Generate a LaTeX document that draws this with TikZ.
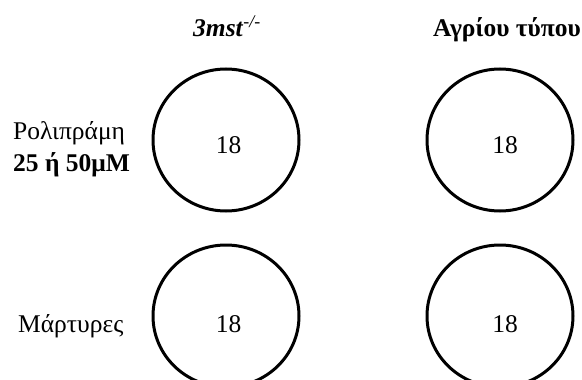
\documentclass[tikz,border=0pt]{standalone}
\usepackage{fontspec}
\setmainfont{Liberation Serif}
\tikzset{
  dish/.style={draw=black, line width=3pt, ellipse, minimum width=146pt, minimum height=142pt, inner sep=0pt},
  lbl/.style={font=\fontsize{25.5}{30}\selectfont, anchor=base, inner sep=0pt},
}
\usetikzlibrary{shapes.geometric}
\begin{document}
\begin{tikzpicture}[x=1pt,y=-1pt]
\useasboundingbox (0,0) rectangle (582,380);
\clip (0,0) rectangle (582,380);
\node[dish] (c11) at (226,140) {};
\node[dish] (c12) at (500,140) {};
\node[dish] (c21) at (226,316) {};
\node[dish] (c22) at (500,316) {};
\node[lbl] (n11) at (228.5,153) {18};
\node[lbl] (n12) at (505,153) {18};
\node[lbl] (n21) at (228.5,332) {18};
\node[lbl] (n22) at (505,332) {18};
\node[lbl] (h1) at (227,36.5) {\textbf{\textit{3mst}}\textsuperscript{\textit{-/-}}};
\node[lbl] (h2) at (507,36.5) {\textbf{Αγρίου τύπου}};
\node[lbl, anchor=base west] (r1a) at (13,139) {Ρολιπράμη};
\node[lbl, anchor=base west] (r1b) at (13,171.5) {\textbf{25 ή 50μΜ}};
\node[lbl, anchor=base west] (r2) at (18,332) {Μάρτυρες};
\end{tikzpicture}
\end{document}
